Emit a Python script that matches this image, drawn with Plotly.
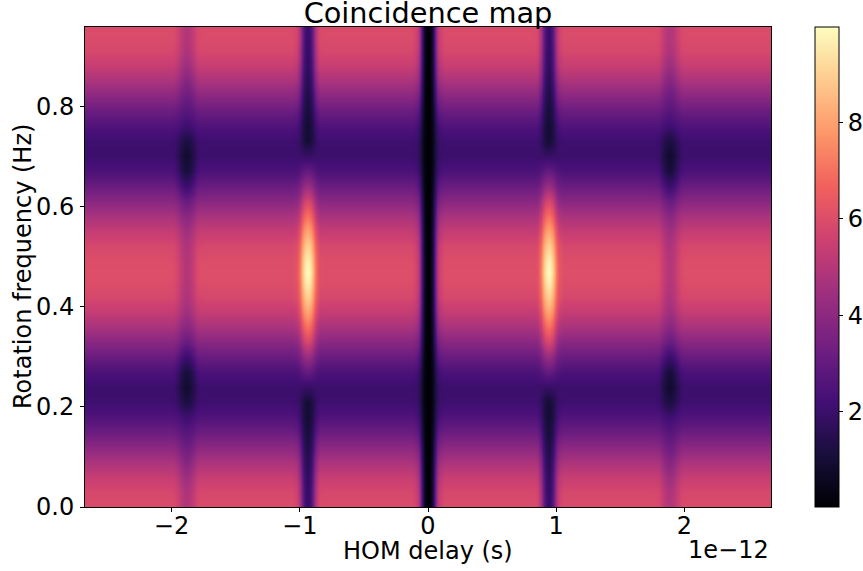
import plotly.graph_objects as go

# --- values ---
freq_hz = [-0.02, 0, .03, .06, .09, .12, .15, .18, .21, .24, .27, .30, .33, .36, .39, .42, .45, .47,
           .49, .52, .55, .58, .61, .64, .67, .70, .73, .76, .79, .82, .85, .88, .91, .94, .98]
background = [5.91, 5.96, 5.82, 5.4, 4.75, 3.96, 3.17, 2.52, 2.1, 2.05, 2.42, 3.12, 3.91, 4.7, 5.35, 5.82, 6.0, 6.05,
              6.0, 5.82, 5.35, 4.7, 3.91, 3.12, 2.42, 2.05, 2.1, 2.52, 3.17, 3.96, 4.75, 5.4, 5.82, 5.96, 5.91]
centre_stripe = [0.05] * 35
first_stripe = [1.9, 1.9, 1.8, 1.7, 1.5, 1.3, 1.1, .95, 1.0, 1.9, 3.0, 4.3, 5.8, 7.0, 8.1, 9.0, 9.7, 9.95,
                9.7, 9.0, 8.1, 7.0, 5.8, 4.3, 3.0, 1.9, 1.0, .95, 1.1, 1.3, 1.5, 1.7, 1.8, 1.9, 1.9]
second_stripe = [4.9, 4.9, 4.8, 4.4, 3.8, 3.2, 2.7, 2.1, 1.2, .85, 1.1, 2.0, 3.1, 3.9, 4.5, 4.8, 4.9, 4.95,
                 4.9, 4.8, 4.5, 3.9, 3.1, 2.0, 1.1, .85, 1.2, 2.1, 2.7, 3.2, 3.8, 4.4, 4.8, 4.9, 4.9]

# delay columns (ps, positive half; the map is mirrored), which stripe each belongs to and how strongly
delay_ps = [0, .015, .03, .045, .06, .08, .10, .13, .5,
            .81, .84, .86, .88, .895, .91, .925, .94, .955, .97, .985, 1.0, 1.02, 1.05, 1.07, 1.45,
            1.75, 1.78, 1.80, 1.82, 1.84, 1.865, 1.885, 1.905, 1.93, 1.95, 1.97, 1.99, 2.02, 2.72]
stripe_of = [0, 0, 0, 0, 0, 0, 0, 0, 0,
             1, 1, 1, 1, 1, 1, 1, 1, 1, 1, 1, 1, 1, 1, 1, 1,
             2, 2, 2, 2, 2, 2, 2, 2, 2, 2, 2, 2, 2, 2]
strength = [1, .97, .86, .62, .33, .12, .04, 0, 0,
            0, .01, .08, .33, .62, .84, .96, 1, .96, .84, .62, .33, .08, .01, 0, 0,
            0, .03, .12, .36, .68, .92, 1, .92, .68, .36, .12, .03, 0, 0]

x_tick_values = [-2e-12, -1e-12, 0, 1e-12, 2e-12]
x_tick_labels = ["\u22122", "\u22121", "0", "1", "2"]
y_tick_values = [0, .2, .4, .6, .8]
y_tick_labels = ["0.0", "0.2", "0.4", "0.6", "0.8"]
bar_tick_values = [2, 4, 6, 8]
magma = ["#000004", "#180f3d", "#440f76", "#721f81", "#9e2f7f", "#cd4071", "#f1605d", "#fd9668", "#feca8d", "#fcfdbf"]

# --- table built from the lists above ---
profiles = [centre_stripe, first_stripe, second_stripe]
half = []
for r, bg in enumerate(background):
    half.append([bg + w * (profiles[s][r] - bg) for s, w in zip(stripe_of, strength)])
x = [-d * 1e-12 for d in reversed(delay_ps[1:])] + [d * 1e-12 for d in delay_ps]
z = [list(reversed(row[1:])) + row for row in half]

L, R, T, B = 85, 771, 27, 507
W, H = 863, 571
FONT = "DejaVu Sans"
FS = 24
tf = dict(family=FONT, size=FS, color="black")

fig = go.Figure(go.Heatmap(
    x=x, y=freq_hz, z=z, zmin=0.03, zmax=9.97, zsmooth="best",
    colorscale=[[i / (len(magma) - 1), c] for i, c in enumerate(magma)],
    colorbar=dict(
        x=(815 - L) / (R - L), xanchor="left", y=0, yanchor="bottom", len=1, lenmode="fraction",
        thickness=23.5, thicknessmode="pixels", xpad=0, ypad=0,
        outlinecolor="black", outlinewidth=1, borderwidth=0,
        tickmode="array", tickvals=bar_tick_values, ticks="outside", ticklen=4, tickwidth=1,
        tickcolor="black", tickfont=tf,
    ),
))
fig.update_layout(
    width=W, height=H, paper_bgcolor="white", plot_bgcolor="white",
    margin=dict(l=L, r=W - R, t=T, b=H - B, pad=0, autoexpand=False),
    font=tf,
    title=dict(text="Coincidence map", x=428 / W, xanchor="center", xref="container",
               y=1 - 13 / H, yanchor="middle", yref="container",
               font=dict(family=FONT, size=28.8, color="black")),
    xaxis=dict(range=[-2.675e-12, 2.675e-12], tickmode="array", tickvals=x_tick_values, ticktext=x_tick_labels,
               ticks="outside", ticklen=4, tickwidth=1, tickcolor="black", showgrid=False, zeroline=False,
               showline=True, linecolor="black", linewidth=1, mirror=True, tickfont=tf,
               ticklabelstandoff=-7, automargin=False),
    yaxis=dict(range=[0, 0.958], tickmode="array", tickvals=y_tick_values, ticktext=y_tick_labels,
               ticks="outside", ticklen=4, tickwidth=1, tickcolor="black", showgrid=False, zeroline=False,
               showline=True, linecolor="black", linewidth=1, mirror=True, tickfont=tf,
               ticklabelstandoff=1, automargin=False),
    annotations=[
        dict(text="1e\u221212", xref="paper", yref="paper", x=1, y=-43 / (B - T), xanchor="right",
             yanchor="middle", showarrow=False, font=tf),
        dict(text="HOM delay (s)", xref="paper", yref="paper", x=0.5, y=-44 / (B - T), xanchor="center",
             yanchor="middle", showarrow=False, font=tf),
        dict(text="Rotation frequency (Hz)", xref="paper", yref="paper", x=-62 / (R - L), y=0.5, xanchor="center",
             yanchor="middle", textangle=-90, showarrow=False, font=tf),
    ],
)
fig.write_html("out.html", post_script="document.body.style.margin='0';", config={"displayModeBar": False})
